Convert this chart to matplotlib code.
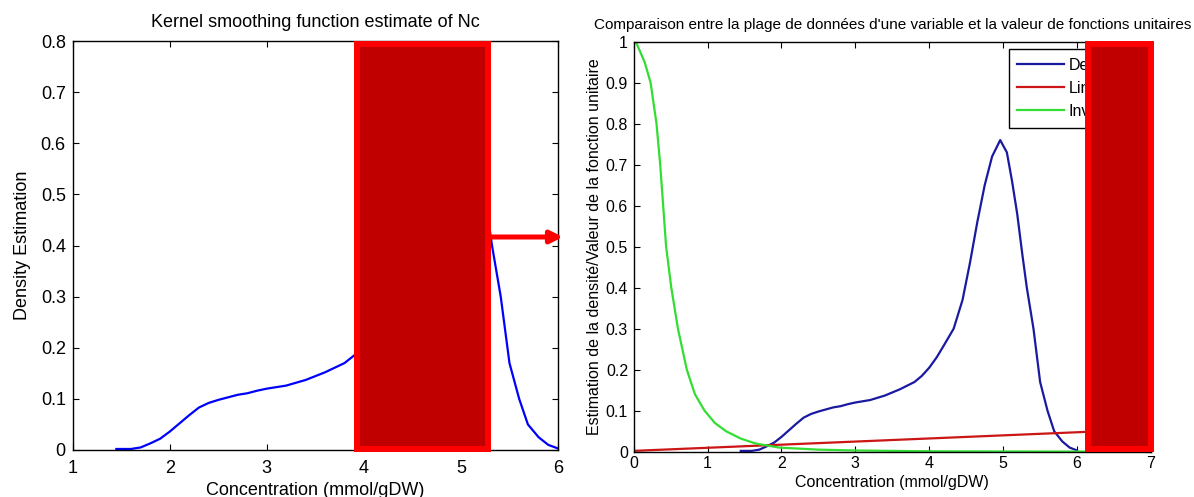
import matplotlib
matplotlib.use("Agg")
import matplotlib.pyplot as plt
from matplotlib.patches import Rectangle

plt.rcParams["font.family"] = ["Liberation Sans", "DejaVu Sans"]

# kernel density estimate of Nc (shared by both panels)
conc = [1.45, 1.6, 1.7, 1.8, 1.9, 2.0, 2.1, 2.2, 2.3, 2.4, 2.5, 2.6, 2.7, 2.8,
        2.9, 3.0, 3.2, 3.4, 3.6, 3.8, 3.9, 4.0, 4.1, 4.2, 4.33, 4.45, 4.55,
        4.65, 4.75, 4.85, 4.96, 5.05, 5.12, 5.19, 5.26, 5.32, 5.41, 5.5, 5.6,
        5.69, 5.8, 5.9, 6.0]
density = [0.002, 0.002, 0.005, 0.013, 0.022, 0.036, 0.052, 0.068, 0.083,
           0.092, 0.098, 0.103, 0.108, 0.111, 0.116, 0.120, 0.126, 0.137,
           0.152, 0.170, 0.185, 0.205, 0.230, 0.260, 0.300, 0.370, 0.460,
           0.560, 0.650, 0.720, 0.760, 0.730, 0.660, 0.580, 0.480, 0.400,
           0.300, 0.170, 0.100, 0.050, 0.025, 0.010, 0.003]

# unit functions on the right panel
lin_x = [0.0, 7.0]
lin_y = [0.002, 0.055]
inv_x = [0.0, 0.03, 0.15, 0.23, 0.31, 0.36, 0.40, 0.44, 0.51, 0.60, 0.72,
         0.83, 0.96, 1.1, 1.25, 1.45, 1.65, 1.97, 2.5, 3.0, 4.0, 5.0, 6.0, 7.0]
inv_y = [1.0, 1.0, 0.95, 0.9, 0.8, 0.7, 0.6, 0.5, 0.4, 0.3, 0.2, 0.14, 0.1,
         0.07, 0.05, 0.032, 0.02, 0.01, 0.005, 0.003, 0.001, 0.0005, 0.0003,
         0.0002]
legend_labels = ["Densité", "Linéaire", "Inverse"]

W, H = 1194, 497
fig = plt.figure(figsize=(W / 100, H / 100), dpi=100)


def px_axes(x0, x1, ytop, ybot):
    return fig.add_axes([x0 / W, 1 - ybot / H, (x1 - x0) / W, (ybot - ytop) / H])


def matlab_style(ax, size, xpad, ypad):
    ax.tick_params(direction="in", top=True, right=True, length=4,
                   labelsize=size)
    ax.tick_params(axis="x", pad=xpad)
    ax.tick_params(axis="y", pad=ypad)
    for s in ax.spines.values():
        s.set_linewidth(1.0)


# ── left panel ──────────────────────────────────────────────────────────────
ax1 = px_axes(72.7, 558, 41, 450)
ax1.plot(conc, density, color="#0000FF", lw=1.6)
ax1.set_xlim(1, 6)
ax1.set_ylim(0, 0.8)
ax1.set_xticks(range(1, 7))
ax1.set_yticks([i / 10 for i in range(9)])
ax1.set_yticklabels(["0"] + [f"{i / 10:g}" for i in range(1, 9)])
matlab_style(ax1, 13, 7, 5)
ax1.set_title("Kernel smoothing function estimate of Nc", fontsize=13, pad=10)
ax1.set_xlabel("Concentration (mmol/gDW)", fontsize=13, labelpad=4)
ax1.set_ylabel("Density Estimation", fontsize=13, labelpad=7)

# ── right panel ─────────────────────────────────────────────────────────────
ax2 = px_axes(633.6, 1151, 41.7, 451.7)
l1, = ax2.plot(conc, density, color="#1a1aa0", lw=1.6)
l2, = ax2.plot(lin_x, lin_y, color="#cc1515", lw=1.6)
l3, = ax2.plot(inv_x, inv_y, color="#33dd33", lw=1.6)
ax2.set_xlim(0, 7)
ax2.set_ylim(0, 1)
ax2.set_xticks(range(8))
ax2.set_yticks([i / 10 for i in range(11)])
ax2.set_yticklabels(["0"] + [f"{i / 10:g}" for i in range(1, 10)] + ["1"])
matlab_style(ax2, 11.5, 3, 4)
ax2.set_title("Comparaison entre la plage de données d'une variable et la "
              "valeur de fonctions unitaires", fontsize=11, pad=9.5)
ax2.set_xlabel("Concentration (mmol/gDW)", fontsize=11.5, labelpad=3)
ax2.set_ylabel("Estimation de la densité/Valeur de la fonction unitaire",
               fontsize=11.5, labelpad=3)
leg = ax2.legend([l1, l2, l3], legend_labels, loc="upper left",
                 bbox_to_anchor=(0.725, 0.982), borderaxespad=0,
                 fontsize=11.5, handlelength=2.9, handletextpad=0.3,
                 labelspacing=0.5, borderpad=0.55, fancybox=False,
                 framealpha=1, edgecolor="black")
leg.get_frame().set_linewidth(1.0)

# ── red masking boxes and arrow ─────────────────────────────────────────────
for x0, x1 in [(357, 488), (1088, 1151)]:
    fig.patches.append(Rectangle((x0 / W, 1 - 449 / H), (x1 - x0) / W, 405 / H,
                                 transform=fig.transFigure, facecolor="#c00000",
                                 edgecolor="#ff0000", lw=4.3, zorder=10))
ax1.annotate("", xy=(563, H - 237), xytext=(489, H - 237),
             xycoords="figure pixels", textcoords="figure pixels",
             arrowprops=dict(arrowstyle="-|>", color="#ff0000", lw=3.6,
                             mutation_scale=18, shrinkA=0, shrinkB=0),
             annotation_clip=False, zorder=11)

fig.savefig("out.png", dpi=100)
